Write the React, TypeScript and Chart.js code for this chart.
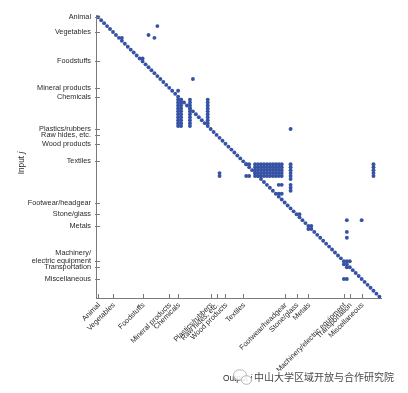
import React, { useEffect, useRef } from 'react';
import { Chart, registerables } from 'chart.js';

Chart.register(...registerables);

// Section labels and the product index (HS chapter order) where each section starts
const sectionLabels = [
  'Animal', 'Vegetables', 'Foodstuffs', 'Mineral products', 'Chemicals',
  'Plastics/rubbers', 'Raw hides, etc.', 'Wood products', 'Textiles',
  'Footwear/headgear', 'Stone/glass', 'Metals', 'Machinery/electric equipment',
  'Transportation', 'Miscellaneous',
];
const sectionStarts = [1, 6, 16, 25, 28, 39, 41, 44, 50, 64, 68, 72, 84, 86, 90];
const yLabelLines = [
  ['Animal'], ['Vegetables'], ['Foodstuffs'], ['Mineral products'], ['Chemicals'],
  ['Plastics/rubbers'], ['Raw hides, etc.'], ['Wood products'], ['Textiles'],
  ['Footwear/headgear'], ['Stone/glass'], ['Metals'], ['Machinery/', 'electric equipment'],
  ['Transportation'], ['Miscellaneous'],
];

// Diagonal entries (each product uses itself as input)
const diagonal = [
  1, 2, 3, 4, 5, 6, 7, 8, 9, 10, 11, 12, 13, 14, 15, 16, 17, 18, 19, 20,
  21, 22, 23, 24, 25, 26, 27, 28, 29, 30, 31, 32, 33, 34, 35, 36, 37, 38, 39, 40,
  41, 42, 43, 44, 45, 46, 47, 48, 49, 50, 51, 52, 53, 54, 55, 56, 57, 58, 59, 60,
  61, 62, 63, 64, 65, 66, 67, 68, 69, 70, 71, 72, 73, 74, 75, 76, 77, 78, 79, 80,
  81, 82, 83, 84, 85, 86, 87, 88, 89, 90, 91, 92, 93, 94, 95, 96,
];

// Isolated off-diagonal entries (output i, input j)
const singleOutput = [21, 18, 20, 33, 28, 66, 42, 42, 62, 63, 62, 63, 85, 90, 85, 85, 84, 85, 9, 16, 73, 72, 69, 85, 84, 86, 85];
const singleInput = [4, 7, 8, 22, 26, 39, 54, 55, 58, 58, 61, 61, 70, 70, 74, 76, 90, 90, 8, 15, 72, 73, 68, 84, 85, 84, 86];

// Dense blocks: output columns x input rows
const chemCols = [28, 29, 32];
const chemRows = [29, 30, 31, 32, 33, 34, 35, 36, 37, 38];
const chemCol38 = [38];
const chemCol38Rows = [29, 30, 31, 32, 33, 34, 35, 36, 37];
const textileCols = [54, 55, 56, 57, 58, 59, 60, 61, 62, 63];
const textileRows = [51, 52, 53, 54, 55];
const textileLeftCols = [51, 52];
const textileLeftRows = [51, 55];
const col66 = [66];
const col66Rows = [51, 52, 53, 54, 55, 56, 58, 59, 60];
const col94 = [94];
const col94Rows = [51, 52, 53, 54, 55];

const BLUE = '#3652a5';
const AXIS = '#7a7a7a';
const TEXT = '#2a2a2a';

function buildPoints() {
  const pts: { x: number; y: number }[] = [];
  diagonal.forEach((d) => pts.push({ x: d, y: d }));
  singleOutput.forEach((x, i) => pts.push({ x, y: singleInput[i] }));
  const block = (cols: number[], rows: number[]) =>
    cols.forEach((x) => rows.forEach((y) => pts.push({ x, y })));
  block(chemCols, chemRows);
  block(chemCol38, chemCol38Rows);
  block(textileCols, textileRows);
  block(textileLeftCols, textileLeftRows);
  block(col66, col66Rows);
  block(col94, col94Rows);
  return pts;
}

const decorPlugin = {
  id: 'decor',
  afterDraw(chart: any) {
    const { ctx, chartArea, scales } = chart;
    const xs = scales.x;
    const ys = scales.y;
    ctx.save();
    // inward tick marks
    ctx.strokeStyle = AXIS;
    ctx.lineWidth = 1;
    sectionStarts.forEach((v) => {
      const py = Math.round(ys.getPixelForValue(v)) + 0.5;
      ctx.beginPath();
      ctx.moveTo(chartArea.left - 1, py);
      ctx.lineTo(chartArea.left + 4, py);
      ctx.stroke();
      const px = Math.round(xs.getPixelForValue(v)) + 0.5;
      ctx.beginPath();
      ctx.moveTo(px, chartArea.bottom + 1);
      ctx.lineTo(px, chartArea.bottom - 4);
      ctx.stroke();
    });

    // y tick labels
    ctx.font = '7.3px "Liberation Sans", Arial, sans-serif';
    ctx.fillStyle = TEXT;
    ctx.textAlign = 'right';
    ctx.textBaseline = 'middle';
    yLabelLines.forEach((lines, i) => {
      const py = ys.getPixelForValue(sectionStarts[i]);
      lines.forEach((ln, k) => {
        ctx.fillText(ln, chartArea.left - 5, py - (lines.length - 1 - k) * 8);
      });
    });

    // x tick labels, rotated 45 degrees
    sectionLabels.forEach((lab, i) => {
      const px = xs.getPixelForValue(sectionStarts[i]);
      ctx.save();
      ctx.translate(px + 1, chartArea.bottom + 6);
      ctx.rotate(-Math.PI / 4);
      ctx.textAlign = 'right';
      ctx.textBaseline = 'middle';
      ctx.fillText(lab, 0, 0);
      ctx.restore();
    });

    // y axis title "Input j"
    const f = '8.3px "Liberation Sans", Arial, sans-serif';
    const fi = 'italic 8.3px "Liberation Sans", Arial, sans-serif';
    ctx.save();
    ctx.translate(22, 163);
    ctx.rotate(-Math.PI / 2);
    ctx.font = f;
    const w1 = ctx.measureText('Input ').width;
    ctx.font = fi;
    const w2 = ctx.measureText('j').width;
    ctx.textAlign = 'left';
    ctx.textBaseline = 'middle';
    ctx.font = f;
    ctx.fillText('Input ', -(w1 + w2) / 2, 0);
    ctx.font = fi;
    ctx.fillText('j', -(w1 + w2) / 2 + w1, 0);
    ctx.restore();

    // x axis title "Output i"
    ctx.textAlign = 'left';
    ctx.textBaseline = 'middle';
    ctx.font = f;
    const o1 = ctx.measureText('Output ').width;
    ctx.fillText('Output ', 223, 379);
    ctx.font = fi;
    ctx.fillText('i', 223 + o1, 379);

    // watermark icon
    ctx.fillStyle = 'rgba(255,255,255,0.85)';
    ctx.strokeStyle = '#b5b5b5';
    ctx.lineWidth = 1;
    ctx.beginPath();
    ctx.ellipse(240, 375, 6.5, 5.2, 0, 0, Math.PI * 2);
    ctx.fill();
    ctx.stroke();
    ctx.beginPath();
    ctx.ellipse(246.5, 380, 5.2, 4.3, 0, 0, Math.PI * 2);
    ctx.fill();
    ctx.stroke();

    // watermark text
    ctx.font = '10px "Noto Sans CJK SC", sans-serif';
    ctx.textBaseline = 'middle';
    ctx.lineWidth = 2;
    ctx.strokeStyle = 'rgba(255,255,255,0.9)';
    ctx.strokeText('中山大学区域开放与合作研究院', 254, 377);
    ctx.fillStyle = '#4a4a4a';
    ctx.fillText('中山大学区域开放与合作研究院', 254, 377);
    ctx.restore();
  },
};

export default function App() {
  const canvasRef = useRef<HTMLCanvasElement | null>(null);

  useEffect(() => {
    if (!canvasRef.current) return;
    const chart = new Chart(canvasRef.current, {
      type: 'scatter',
      data: {
        datasets: [
          {
            data: buildPoints(),
            backgroundColor: BLUE,
            borderWidth: 0,
            pointRadius: 1.95,
            pointHoverRadius: 1.95,
            clip: false as any,
          },
        ],
      },
      options: {
        animation: false,
        responsive: false,
        maintainAspectRatio: false,
        devicePixelRatio: 1,
        layout: { padding: { top: 15, right: 27, left: 0, bottom: 0 } },
        plugins: { legend: { display: false }, tooltip: { enabled: false } },
        scales: {
          x: {
            type: 'linear',
            min: 0.26,
            max: 96.54,
            grid: { display: false },
            border: { display: true, color: AXIS, width: 1 },
            ticks: { display: false },
            afterFit: (s: any) => {
              s.height = 95;
            },
          },
          y: {
            type: 'linear',
            reverse: true,
            min: 0.22,
            max: 96.48,
            grid: { display: false },
            border: { display: true, color: AXIS, width: 1 },
            ticks: { display: false },
            afterFit: (s: any) => {
              s.width = 96;
            },
          },
        },
      },
      plugins: [decorPlugin],
    });
    return () => chart.destroy();
  }, []);

  return (
    <div style={{ position: 'fixed', left: 0, top: 0, width: 408, height: 393, background: '#fff' }}>
      <canvas ref={canvasRef} width={408} height={393} style={{ display: 'block' }} />
    </div>
  );
}
